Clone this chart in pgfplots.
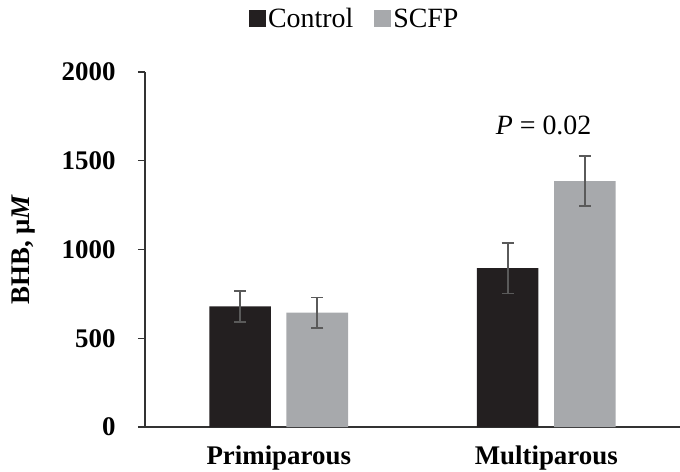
\documentclass[border=0pt]{standalone}
\usepackage{pgfplots}
\pgfplotsset{compat=1.18}
\usepackage{fontspec}
\setmainfont{Liberation Serif}
\definecolor{ctrl}{HTML}{231F20}
\definecolor{scfp}{HTML}{A7A9AC}
\definecolor{errc}{HTML}{5A5A5A}
\definecolor{axl}{HTML}{333333}
\newcommand{\bigf}{\fontsize{27}{32}\selectfont}
\newcommand{\legf}{\fontsize{28}{32}\selectfont}
\begin{document}
\begin{tikzpicture}
\begin{axis}[
  scale only axis, width=535bp, height=355bp,
  xmin=-0.5, xmax=1.5, ymin=0, ymax=2000,
  axis x line*=bottom, axis y line*=left,
  axis line style={draw=axl, line width=1.6bp},
  xtick={0,1}, xticklabels={Primiparous,Multiparous},
  major x tick style={draw=none},
  ytick={0,500,1000,1500,2000},
  tick align=outside, major tick length=7bp,
  y tick style={draw=axl, line width=1.3bp},
  /pgf/number format/assume math mode=true,
  /pgf/number format/1000 sep={},
  tick label style={font=\bigf\bfseries},
  xticklabel style={yshift=-8bp},
  yticklabel style={xshift=-19bp},
  ylabel={BHB, μ\textit{M}},
  ylabel style={font=\bigf\bfseries, at={(rel axis cs:-0.2262,0.5)}, anchor=center},
  ybar, bar width=0.23,
  error bars/error bar style={draw=errc, line width=1.8bp},
  error bars/error mark options={rotate=90, draw=errc, line width=1.8bp, mark size=6bp},
  legend columns=2,
  legend style={draw=none, fill=none, font=\legf, at={(rel axis cs:0.392,1.15)}, anchor=center,
    /tikz/every even column/.append style={column sep=19bp}},
  legend image code/.code={\fill[#1] (-7bp,-8.5bp) rectangle (10bp,8.5bp);},
  clip=false,
]
\addplot[fill=ctrl, draw=none, bar shift=-0.144,
  error bars/.cd, y dir=both, y explicit]
  coordinates {(0,680) +- (0,87) (1,895) +- (0,143)};
\addlegendentry{Control}
\addplot[fill=scfp, draw=none, bar shift=0.144,
  error bars/.cd, y dir=both, y explicit]
  coordinates {(0,645) +- (0,85) (1,1385) +- (0,140)};
\addlegendentry{SCFP}
\node[font=\legf] at (axis cs:0.99,1700) {\textit{P} = 0.02};
\coordinate (bl) at (rel axis cs:-0.271,-0.124);
\coordinate (tr) at (rel axis cs:1,1.2028);
\end{axis}
\pgfresetboundingbox
\path[use as bounding box] (bl) rectangle (tr);
\end{tikzpicture}
\end{document}
